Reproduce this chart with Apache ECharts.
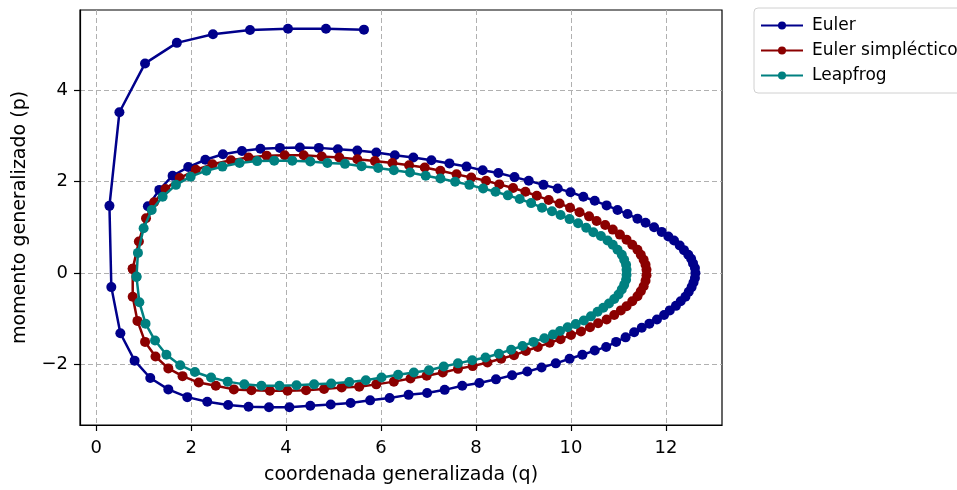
<!DOCTYPE html>
<html><head><meta charset="utf-8">
<script src="https://cdn.jsdelivr.net/npm/echarts@6/dist/echarts.min.js"></script>
<style>html,body{margin:0;padding:0;background:#fff}#c{width:957px;height:490px}</style>
</head><body><div id="c"></div>
<script>
const seriesNames = ['Euler', 'Euler simpléctico', 'Leapfrog'];
const xTicks = [0, 2, 4, 6, 8, 10, 12];
const yTicks = [-2, 0, 2, 4];

const eulerQ = [1.09,1.33,1.61,1.94,2.30,2.67,3.07,3.46,3.87,4.29,4.69,5.09,5.50,5.90,6.29,6.68,7.06,7.44,7.80,8.14,8.47,8.81,9.11,9.42,9.72,9.99,10.26,10.50,10.75,10.98,11.19,11.40,11.57,11.75,11.91,12.05,12.17,12.29,12.38,12.47,12.53,12.57,12.61,12.62,12.61,12.58,12.54,12.48,12.41,12.31,12.21,12.08,11.96,11.81,11.65,11.49,11.33,11.15,10.95,10.74,10.50,10.24,9.97,9.68,9.38,9.08,8.76,8.42,8.07,7.71,7.34,6.97,6.58,6.18,5.77,5.36,4.94,4.51,4.07,3.64,3.21,2.78,2.34,1.92,1.52,1.14,0.81,0.51,0.32,0.28,0.49,1.03,1.70,2.46,3.24,4.04,4.84,5.64];
const eulerP = [1.46,1.82,2.13,2.32,2.48,2.60,2.67,2.72,2.74,2.75,2.74,2.71,2.68,2.64,2.58,2.53,2.47,2.40,2.33,2.25,2.19,2.10,2.02,1.93,1.85,1.77,1.67,1.58,1.48,1.38,1.29,1.19,1.10,1.00,0.90,0.80,0.71,0.60,0.50,0.40,0.31,0.21,0.11,0.00,-0.11,-0.21,-0.31,-0.41,-0.52,-0.62,-0.72,-0.82,-0.92,-1.02,-1.11,-1.20,-1.30,-1.41,-1.51,-1.62,-1.70,-1.79,-1.88,-1.98,-2.07,-2.16,-2.24,-2.33,-2.41,-2.47,-2.56,-2.63,-2.67,-2.74,-2.79,-2.85,-2.88,-2.91,-2.94,-2.94,-2.93,-2.89,-2.82,-2.72,-2.55,-2.30,-1.92,-1.32,-0.31,1.47,3.52,4.59,5.04,5.23,5.32,5.35,5.35,5.33];

const sympQ = [0.77,0.90,1.05,1.22,1.46,1.76,2.10,2.45,2.84,3.21,3.59,3.97,4.37,4.75,5.12,5.50,5.87,6.24,6.59,6.92,7.25,7.59,7.90,8.21,8.49,8.78,9.04,9.28,9.53,9.76,9.98,10.18,10.38,10.54,10.72,10.88,11.03,11.17,11.29,11.40,11.47,11.53,11.57,11.59,11.59,11.57,11.53,11.47,11.40,11.29,11.17,11.05,10.91,10.75,10.57,10.40,10.21,10.00,9.78,9.55,9.30,9.05,8.80,8.53,8.24,7.93,7.62,7.30,6.96,6.62,6.27,5.90,5.54,5.17,4.80,4.42,4.03,3.66,3.27,2.90,2.52,2.16,1.82,1.52,1.25,1.03,0.87,0.77,0.77];
const sympP = [0.09,0.69,1.20,1.55,1.84,2.08,2.26,2.38,2.47,2.53,2.57,2.58,2.58,2.55,2.53,2.49,2.45,2.41,2.36,2.31,2.24,2.16,2.09,2.02,1.94,1.86,1.78,1.69,1.60,1.52,1.43,1.33,1.24,1.14,1.05,0.95,0.84,0.73,0.62,0.51,0.40,0.29,0.18,0.07,-0.05,-0.17,-0.29,-0.40,-0.51,-0.62,-0.73,-0.82,-0.92,-1.02,-1.10,-1.19,-1.28,-1.36,-1.45,-1.53,-1.62,-1.71,-1.80,-1.88,-1.96,-2.04,-2.10,-2.18,-2.25,-2.31,-2.38,-2.44,-2.49,-2.51,-2.54,-2.57,-2.58,-2.58,-2.57,-2.55,-2.47,-2.40,-2.26,-2.09,-1.83,-1.51,-1.05,-0.52,0.09];

const leapQ = [0.85,0.88,1.00,1.17,1.40,1.68,1.99,2.32,2.66,3.02,3.39,3.75,4.13,4.51,4.87,5.24,5.59,5.94,6.27,6.61,6.94,7.25,7.56,7.86,8.15,8.41,8.67,8.92,9.16,9.39,9.60,9.78,9.97,10.15,10.32,10.47,10.63,10.77,10.88,10.98,11.07,11.12,11.16,11.17,11.17,11.16,11.12,11.07,11.00,10.91,10.80,10.68,10.56,10.42,10.27,10.10,9.93,9.77,9.62,9.44,9.21,8.98,8.74,8.48,8.20,7.92,7.62,7.32,7.01,6.69,6.36,6.01,5.68,5.33,4.95,4.59,4.22,3.86,3.48,3.12,2.77,2.42,2.08,1.77,1.48,1.24,1.04,0.91,0.85];
const leapP = [-0.08,0.44,0.98,1.38,1.67,1.93,2.11,2.24,2.33,2.41,2.45,2.46,2.46,2.44,2.41,2.39,2.34,2.30,2.25,2.20,2.13,2.07,2.00,1.93,1.85,1.78,1.70,1.62,1.53,1.43,1.35,1.27,1.18,1.09,0.99,0.89,0.81,0.71,0.62,0.51,0.40,0.29,0.18,0.07,-0.04,-0.15,-0.26,-0.36,-0.47,-0.57,-0.67,-0.76,-0.85,-0.95,-1.04,-1.12,-1.19,-1.27,-1.35,-1.43,-1.51,-1.60,-1.68,-1.77,-1.85,-1.91,-1.98,-2.05,-2.13,-2.18,-2.23,-2.29,-2.35,-2.39,-2.42,-2.44,-2.46,-2.47,-2.47,-2.44,-2.38,-2.29,-2.17,-2.02,-1.79,-1.48,-1.11,-0.64,-0.09];

const colors = ['#00008b', '#8b0000', '#008080'];
const zip = (a, b) => a.map((v, i) => [v, b[i]]);
const allData = [zip(eulerQ, eulerP), zip(sympQ, sympP), zip(leapQ, leapP)];

const fmt = v => (v < 0 ? '\u2212' + Math.abs(v) : String(v));
const font = 'DejaVu Sans';

const chart = echarts.init(document.getElementById('c'), null, {renderer: 'canvas'});
chart.setOption({
  animation: false,
  textStyle: {fontFamily: font},
  grid: {left: 80, right: 235, top: 10, bottom: 62, show: true, borderColor: '#000', borderWidth: 1.2, containLabel: false},
  legend: {
    orient: 'vertical', left: 754, top: 8,
    data: seriesNames,
    itemWidth: 42, itemHeight: 10, itemGap: 8,
    padding: [9, 8, 9, 6],
    borderColor: '#d0d0d0', borderWidth: 1, borderRadius: 4,
    textStyle: {fontSize: 17, color: '#000', fontFamily: font, padding: [0, 0, 0, 4]}
  },
  xAxis: {
    type: 'value', min: -0.34, max: 13.18,
    name: 'coordenada generalizada (q)', nameLocation: 'middle', nameGap: 41,
    nameTextStyle: {fontSize: 19, color: '#000', fontFamily: font},
    axisLine: {show: true, onZero: false, lineStyle: {color: '#000', width: 1.2}},
    axisTick: {show: true, inside: false, length: 6, lineStyle: {color: '#000', width: 1.2}, customValues: xTicks},
    axisLabel: {fontSize: 18, color: '#000', margin: 14, formatter: fmt, customValues: xTicks, fontFamily: font},
    splitLine: {show: true, lineStyle: {color: '#b0b0b0', type: [5, 3], width: 1}}
  },
  yAxis: {
    type: 'value', min: -3.33, max: 5.76,
    name: 'momento generalizado (p)', nameLocation: 'middle', nameGap: 50,
    nameTextStyle: {fontSize: 19, color: '#000', fontFamily: font},
    axisLine: {show: true, onZero: false, lineStyle: {color: '#000', width: 1.2}},
    axisTick: {show: true, inside: false, length: 6, lineStyle: {color: '#000', width: 1.2}, customValues: yTicks},
    axisLabel: {fontSize: 18, color: '#000', margin: 12, formatter: fmt, customValues: yTicks, fontFamily: font},
    splitLine: {show: true, lineStyle: {color: '#b0b0b0', type: [5, 3], width: 1}}
  },
  series: seriesNames.map((n, i) => ({
    name: n, type: 'line', data: allData[i],
    symbol: 'circle', symbolSize: 10, showSymbol: true, showAllSymbol: true,
    lineStyle: {color: colors[i], width: 2.5},
    itemStyle: {color: colors[i]},
    z: 2 + i
  }))
});
</script></body></html>
